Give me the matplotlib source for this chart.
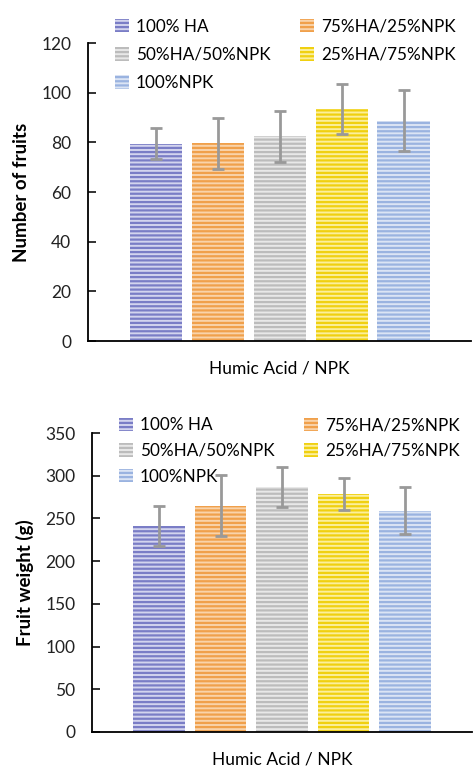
import matplotlib
matplotlib.use("Agg")
import numpy as np
import matplotlib.pyplot as plt

plt.rcParams["font.family"] = ["Lato", "DejaVu Sans"]
plt.rcParams["hatch.linewidth"] = 1.6

treatments = ["100% HA", "75%HA/25%NPK", "50%HA/50%NPK", "25%HA/75%NPK", "100%NPK"]
fruit_count = [79.5, 79.6, 82.5, 93.5, 88.8]
fruit_count_err = [6.3, 10.2, 10.3, 10.1, 12.2]
fruit_weight = [241, 265, 287, 278.5, 259]
fruit_weight_err = [23, 35.5, 23.3, 19, 27.3]

stripe_col = ["#7a7dc6", "#f0a04b", "#bcbcbc", "#f0d010", "#9ab3e0"]
fill_col = ["#d3d4ee", "#f9d3aa", "#e8e8e8", "#fbef9c", "#dbe4f4"]

fig = plt.figure(figsize=(4.73, 7.66), dpi=100)
ax1 = fig.add_axes([0.186, 0.5548, 0.810, 0.389])
ax2 = fig.add_axes([0.1945, 0.0444, 0.8035, 0.3903])

x = np.arange(len(treatments))


def draw(ax, vals, errs, ymax, ystep, ylabel, leg_anchor, leg_space):
    bars = []
    for i in range(len(treatments)):
        b = ax.bar(x[i], vals[i], 0.84, color=fill_col[i], edgecolor=stripe_col[i],
                   hatch="----", linewidth=0, label=treatments[i])
        bars.append(b)
        ax.errorbar(x[i], vals[i], yerr=errs[i], color="#999999", lw=2,
                    capsize=4, capthick=2)
    ax.set_xlim(-1.09, 5.09)
    ax.set_ylim(0, ymax)
    ax.set_yticks(np.arange(0, ymax + 1, ystep))
    ax.set_xticks([])
    ax.spines[["top", "right"]].set_visible(False)
    ax.spines["left"].set_linewidth(1.3)
    ax.spines["bottom"].set_linewidth(1.3)
    ax.tick_params(axis="y", direction="in", length=6, width=1.3, pad=12,
                   labelsize=12.5, colors="#222222")
    ax.set_ylabel(ylabel, fontsize=13.5, fontweight="bold", labelpad=8)
    ax.set_xlabel("Humic Acid / NPK", fontsize=12.5, labelpad=14)
    # row-wise legend order like the original
    order = [0, 2, 4, 1, 3]
    ax.legend([bars[i] for i in order], [treatments[i] for i in order],
              loc="upper left", bbox_to_anchor=leg_anchor, ncol=2, frameon=False,
              fontsize=12.3, handlelength=0.85, handleheight=0.85, handletextpad=0.4,
              columnspacing=1.7, labelspacing=leg_space, borderaxespad=0)


draw(ax1, fruit_count, fruit_count_err, 120, 20, "Number of fruits", (0.052, 1.105), 0.72)
draw(ax2, fruit_weight, fruit_weight_err, 350, 50, "Fruit weight (g)", (0.052, 1.075), 0.56)

fig.savefig("out.png", dpi=100)
